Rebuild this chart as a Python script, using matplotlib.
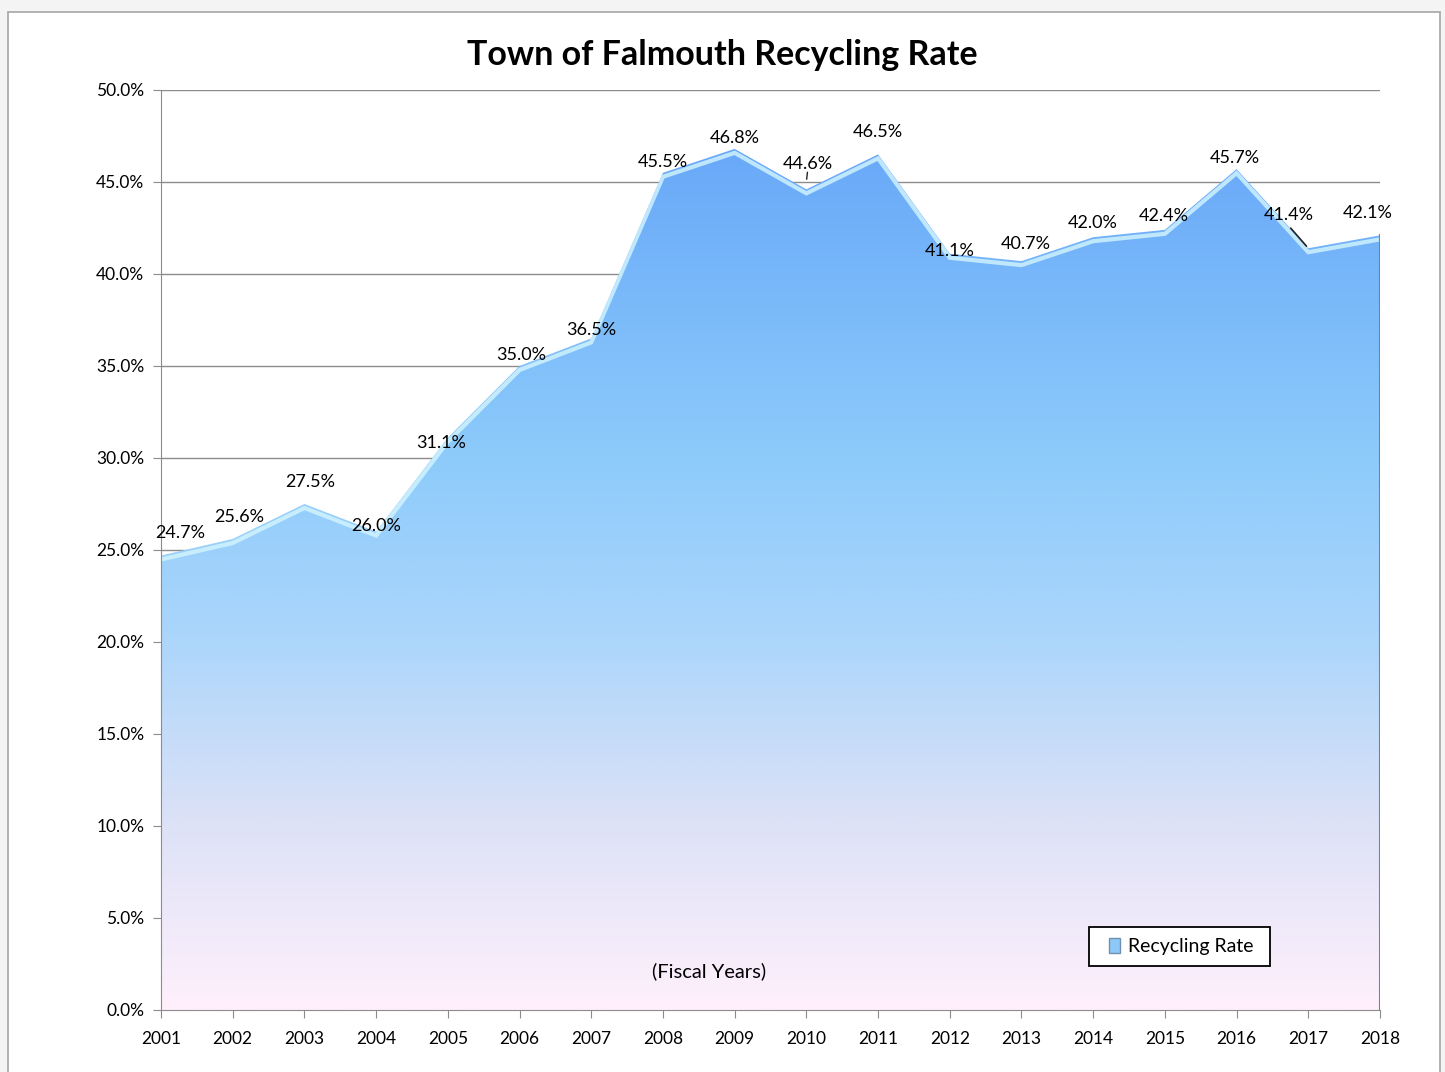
import numpy as np
import matplotlib.pyplot as plt
import matplotlib.transforms as mtransforms
from matplotlib.colors import LinearSegmentedColormap
from matplotlib.patches import Rectangle, Patch

plt.rcParams['font.family'] = ['Lato', 'DejaVu Sans']

years = list(range(2001, 2019))
rates = [24.7, 25.6, 27.5, 26.0, 31.1, 35.0, 36.5, 45.5, 46.8, 44.6,
         46.5, 41.1, 40.7, 42.0, 42.4, 45.7, 41.4, 42.1]
label_dx = [14, 5, 4, 0, -5, 1, 0, 0, 0, 1, 0, 0, 3, 0, -1, -1, -14, -9]
label_dy = [16, 16, 16, 4, -4, 8, 6, 8, 8, 18, 16, 2, 12, 10, 10, 8, 24, 16]

fig = plt.figure(figsize=(14.45, 10.72), dpi=100, facecolor='#f4f4f4')
fig.patches.append(Rectangle((8 / 1445, -0.02), 1432 / 1445, (1060 / 1072) + 0.02,
                             transform=fig.transFigure, facecolor='white',
                             edgecolor='#a6a6a6', linewidth=1.2, zorder=-5))

ax = fig.add_axes([161 / 1445, 62 / 1072, 1219 / 1445, 920 / 1072])
ax.set_facecolor('none')
ax.set_zorder(2)

# gradient fill clipped to the area
cmap = LinearSegmentedColormap.from_list('fill', [
    (0.0, '#fff0fc'), (0.2, '#dde2f7'), (0.4, '#acd6fb'),
    (0.6, '#8dcbfb'), (0.94, '#68a8f8'), (1.0, '#66a4f8')])
poly = ax.fill_between(years, rates, 0, color='none', linewidth=0, zorder=2)
clip = poly.get_paths()[0]
grad = np.linspace(0, 1, 400).reshape(-1, 1)
img = ax.imshow(grad, cmap=cmap, origin='lower', aspect='auto',
                extent=[years[0], years[-1], 0, 50], zorder=2)
img.set_clip_path(clip, transform=ax.transData)

# bevel highlight just inside the top edge
hl = mtransforms.offset_copy(ax.transData, fig=fig, x=0, y=-4, units='dots')
edge, = ax.plot(years, rates, color='#d4f6ff', linewidth=3, alpha=0.8,
                transform=hl, zorder=3, solid_joinstyle='miter')
edge.set_clip_path(clip, transform=ax.transData)
ax.plot([years[-1], years[-1]], [0, rates[-1]], color='#4f86d8', linewidth=1.5, zorder=3)

ax.set_xlim(years[0], years[-1])
ax.set_ylim(0, 50)
ax.set_yticks(np.arange(0, 50.1, 5))
ax.set_yticklabels([f'{v:.1f}%' for v in np.arange(0, 50.1, 5)])
ax.set_xticks(years)
ax.set_xticklabels([str(y) for y in years])
ax.grid(axis='y', color='#8c8c8c', linewidth=1, zorder=1)
ax.set_axisbelow(True)
for s in ['top', 'right']:
    ax.spines[s].set_visible(False)
for s in ['left', 'bottom']:
    ax.spines[s].set_color('#8c8c8c')
    ax.spines[s].set_zorder(4)
ax.tick_params(axis='both', colors='#8c8c8c', labelcolor='black', labelsize=12.5,
               length=6)
ax.tick_params(axis='x', pad=9)
ax.tick_params(axis='y', pad=6)

for i, (x, v) in enumerate(zip(years, rates)):
    ax.annotate(f'{v:.1f}%', (x, v), xytext=(label_dx[i], label_dy[i]),
                textcoords='offset points', ha='center', va='center',
                fontsize=13, zorder=5)

# leader lines
ax.annotate('', (years[16], rates[16]), xytext=(-14, 16), textcoords='offset points',
            arrowprops=dict(arrowstyle='-', color='#222222', lw=1.2), zorder=5)
ax.annotate('', (years[9], rates[9] + 0.4), xytext=(1, 9), textcoords='offset points',
            arrowprops=dict(arrowstyle='-', color='#222222', lw=1.0), zorder=5)

ax.text(0.45, 0.042, '(Fiscal Years)', transform=ax.transAxes, ha='center',
        va='center', fontsize=14.5, zorder=5)

fig.text(0.5, 0.949, 'Town of Falmouth Recycling Rate', ha='center', va='center',
         fontsize=24.5, fontweight='bold')

# legend: frame drawn separately so it can be wider than tall
ax.add_patch(Rectangle((0.761, 0.0478), 0.149, 0.0424, transform=ax.transAxes,
                       facecolor='white', edgecolor='black', linewidth=1.3, zorder=5))
leg = ax.legend(handles=[Patch(facecolor='#8cc8f8', edgecolor='#7090b0', label='Recycling Rate')],
                loc='center', bbox_to_anchor=(0.837, 0.069), fontsize=14,
                frameon=False, handlelength=0.6, handleheight=0.8,
                handletextpad=0.4, borderpad=0, borderaxespad=0)
leg.set_zorder(6)

fig.savefig('out.png', dpi=100, facecolor=fig.get_facecolor())
